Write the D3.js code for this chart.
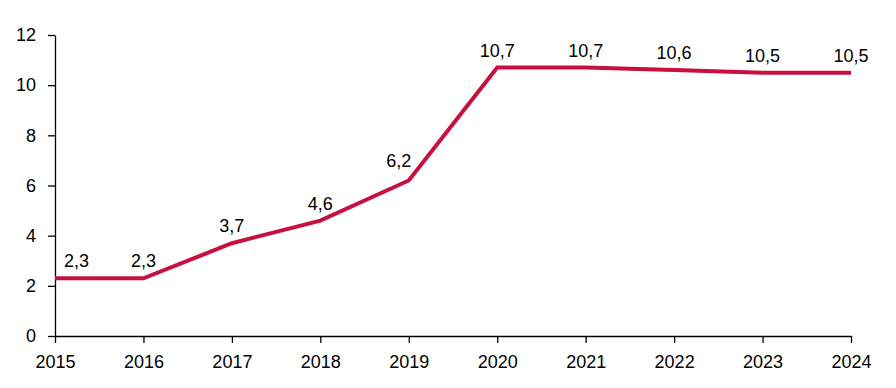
<!DOCTYPE html>
<html>
<head>
<meta charset="utf-8">
<script src="https://cdn.jsdelivr.net/npm/d3@7"></script>
<style>
  body { margin: 0; background: #fff; }
  text { font-family: "Liberation Sans", Arial, sans-serif; font-size: 18px; fill: #000; }
</style>
</head>
<body>
<script>
// chart values
const years = [2015, 2016, 2017, 2018, 2019, 2020, 2021, 2022, 2023, 2024];
const values = [2.3, 2.3, 3.7, 4.6, 6.2, 10.7, 10.7, 10.6, 10.5, 10.5];
const yTicks = [0, 2, 4, 6, 8, 10, 12];

const width = 896, height = 388;
const margin = { top: 35, right: 45, bottom: 52, left: 55 };

const svg = d3.select("body").append("svg")
    .attr("width", width)
    .attr("height", height);

const x = d3.scalePoint()
    .domain(years)
    .range([margin.left, width - margin.right]);

const y = d3.scaleLinear()
    .domain([0, 12])
    .range([height - margin.bottom, margin.top]);

// y axis
svg.append("g")
    .attr("transform", `translate(${margin.left},0)`)
    .call(d3.axisLeft(y).tickValues(yTicks).tickSize(7).tickPadding(12).tickSizeOuter(0));

// x axis
svg.append("g")
    .attr("transform", `translate(0,${y(0)})`)
    .call(d3.axisBottom(x).tickSize(7).tickPadding(12).tickSizeOuter(0));

svg.selectAll(".domain, .tick line").attr("stroke", "#000").attr("stroke-width", 1.3);
svg.selectAll(".tick text").style("font-size", "18px").attr("fill", "#000");

// the line
const line = d3.line()
    .x((d, i) => x(years[i]))
    .y(d => y(d));

svg.append("path")
    .datum(values)
    .attr("fill", "none")
    .attr("stroke", "#C8103E")
    .attr("stroke-width", 4)
    .attr("stroke-linejoin", "miter")
    .attr("d", line);

// data labels (first one pushed right, the 2019 one nudged left like the original)
svg.append("g")
    .selectAll("text")
    .data(values)
    .enter().append("text")
    .attr("x", (d, i) => i === 0 ? x(years[i]) + 9 : (i === 4 ? x(years[i]) - 10 : x(years[i])))
    .attr("y", (d, i) => y(d) - (i === 4 ? 13 : 11))
    .attr("text-anchor", (d, i) => i === 0 ? "start" : "middle")
    .text(d => d3.format(".1f")(d).replace(".", ","));
</script>
</body>
</html>
